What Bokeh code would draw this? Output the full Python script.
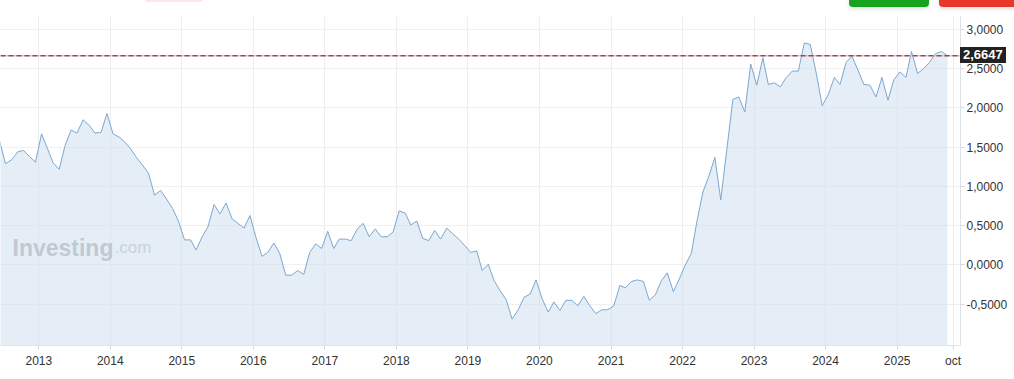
import pandas as pd
from bokeh.plotting import figure
from bokeh.models import (ColumnDataSource, Range1d, FixedTicker, CustomJSTickFormatter,
                          Span, Label, Div)
from bokeh.layouts import column
from bokeh.embed import file_html
from bokeh.resources import INLINE

# ---- data (monthly, Jun 2012 .. Sep 2025) ----
start_month = "2012-06-01"
values = [
    1.58, 1.29, 1.34, 1.44, 1.46, 1.38, 1.31,                              # 2012 Jun-Dec
    1.67, 1.48, 1.30, 1.22, 1.52, 1.72, 1.68, 1.85, 1.78, 1.68, 1.69, 1.93,  # 2013
    1.67, 1.63, 1.57, 1.48, 1.37, 1.27, 1.17, 0.89, 0.95, 0.84, 0.72, 0.56,  # 2014
    0.32, 0.32, 0.19, 0.36, 0.49, 0.77, 0.65, 0.79, 0.59, 0.53, 0.47, 0.63,  # 2015
    0.35, 0.11, 0.16, 0.28, 0.15, -0.13, -0.13, -0.07, -0.12, 0.16, 0.27, 0.21,  # 2016
    0.43, 0.21, 0.33, 0.33, 0.31, 0.46, 0.53, 0.36, 0.46, 0.36, 0.36, 0.42,  # 2017
    0.69, 0.66, 0.51, 0.56, 0.34, 0.31, 0.44, 0.33, 0.47, 0.40, 0.33, 0.25,  # 2018
    0.16, 0.18, -0.07, 0.01, -0.20, -0.33, -0.44, -0.69, -0.57, -0.41, -0.37, -0.19,  # 2019
    -0.43, -0.60, -0.47, -0.58, -0.45, -0.45, -0.52, -0.40, -0.52, -0.62, -0.57, -0.57,  # 2020
    -0.52, -0.26, -0.29, -0.21, -0.19, -0.21, -0.45, -0.38, -0.20, -0.10, -0.34, -0.18,  # 2021
    0.00, 0.15, 0.55, 0.93, 1.13, 1.37, 0.83, 1.47, 2.11, 2.14, 1.95, 2.56,  # 2022
    2.29, 2.64, 2.30, 2.32, 2.27, 2.39, 2.47, 2.47, 2.83, 2.81, 2.44, 2.03,  # 2023
    2.17, 2.39, 2.30, 2.58, 2.66, 2.48, 2.30, 2.29, 2.14, 2.39, 2.10, 2.36,  # 2024
    2.46, 2.39, 2.72, 2.44, 2.50, 2.58, 2.69, 2.72, 2.6647,                  # 2025 Jan-Sep
]
tick_dates = ["2013-01-01", "2014-01-01", "2015-01-01", "2016-01-01", "2017-01-01",
              "2018-01-01", "2019-01-01", "2020-01-01", "2021-01-01", "2022-01-01",
              "2023-01-01", "2024-01-01", "2025-01-01", "2025-10-13"]
tick_labels = ["2013", "2014", "2015", "2016", "2017", "2018", "2019", "2020",
               "2021", "2022", "2023", "2024", "2025", "oct"]
y_ticks = [-0.5, 0.0, 0.5, 1.0, 1.5, 2.0, 2.5, 3.0]

# ---- build ----
dates = pd.date_range(start_month, periods=len(values), freq="MS") + pd.Timedelta(days=14)
src = ColumnDataSource(dict(x=dates, y=values))

TOP_H = 16
FRAME_H = 329
base = pd.Timestamp("2013-01-01")
x_start = base - pd.Timedelta(days=195.6)
x_end = base + pd.Timedelta(days=4706.2)
y_start, y_end = -1.0255, 3.1656

p = figure(width=1014, height=FRAME_H + 34, x_axis_type="datetime",
           x_range=Range1d(x_start, x_end), y_range=Range1d(y_start, y_end),
           y_axis_location="right", output_backend="svg", toolbar_location=None,
           tools="", min_border_left=0, min_border_right=54, min_border_top=0,
           min_border_bottom=34, background_fill_color="white",
           border_fill_color="white")
p.outline_line_color = None

tick_ms = [pd.Timestamp(d).value / 1e6 for d in tick_dates]
xt = FixedTicker(ticks=tick_ms, minor_ticks=[])
yt = FixedTicker(ticks=y_ticks, minor_ticks=[])

p.xaxis.ticker = xt
p.xaxis.formatter = CustomJSTickFormatter(
    args=dict(t=tick_ms, l=tick_labels),
    code="let b=-1,d=1e30; for(let i=0;i<t.length;i++){const e=Math.abs(t[i]-tick); if(e<d){d=e;b=i;}} return d<1e7 ? l[b] : '';")
p.xaxis.axis_line_color = "#e3e3e3"
p.xaxis.major_tick_line_color = "#d8d8d8"
p.xaxis.major_tick_in = 0
p.xaxis.major_tick_out = 4
p.xaxis.minor_tick_line_color = None
p.xaxis.major_label_standoff = 4
p.xaxis.major_label_text_font = "Liberation Sans"
p.xaxis.major_label_text_font_size = "12px"
p.xaxis.major_label_text_color = "#333333"

p.yaxis.ticker = yt
p.yaxis.formatter = CustomJSTickFormatter(code="return tick.toFixed(4).replace('.', ',');")
p.yaxis.axis_line_color = "#dde1e6"
p.yaxis.major_tick_line_color = "#d8d8d8"
p.yaxis.major_tick_in = 0
p.yaxis.major_tick_out = 4
p.yaxis.minor_tick_line_color = None
p.yaxis.major_label_standoff = 2
p.yaxis.major_label_text_font = "Liberation Sans"
p.yaxis.major_label_text_font_size = "12px"
p.yaxis.major_label_text_color = "#333333"

p.xgrid.ticker = xt
p.ygrid.ticker = yt
p.xgrid.grid_line_color = "#eeeeee"
p.ygrid.grid_line_color = "#f0f0f0"

# watermark
p.add_layout(Label(x=12, y=98, x_units="screen", y_units="screen", text="Investing",
                   text_font="Liberation Sans", text_font_style="bold",
                   text_font_size="23px", text_color="#adadad",
                   text_baseline="alphabetic", level="underlay"))
p.add_layout(Label(x=114, y=98, x_units="screen", y_units="screen", text=".com",
                   text_font="Liberation Sans", text_font_size="17px",
                   text_color="#bdbdbd", text_baseline="alphabetic", level="underlay"))

p.varea(x="x", y1="y", y2=y_start, source=src, fill_color="#cfe0f0", fill_alpha=0.55)
p.line(x="x", y="y", source=src, line_color="#7aa7d0", line_width=1)

last = values[-1]
last_text = f"{last:.4f}".replace(".", ",")
p.add_layout(Span(location=last, dimension="width", line_color="#f2b6c0",
                  line_width=1.5))
p.add_layout(Span(location=last, dimension="width", line_color="#5e1a2a",
                  line_width=1, line_dash="5 3"))

# price tag (HTML, placed over the right axis at the last value)
tag_center = TOP_H + (y_end - last) / (y_end - y_start) * FRAME_H
tag_top = tag_center - 8

top = Div(text=(
    '<div style="position:relative;width:1014px;height:16px;overflow:visible;">'
    '<div style="position:absolute;left:145px;top:-4px;width:58px;height:6px;'
    'background:#fde6e6;border-radius:3px;"></div>'
    '<div style="position:absolute;left:849px;top:-6px;width:80px;height:12.7px;'
    'background:#17a31d;border-radius:4px;box-shadow:0 2px 4px rgba(0,0,0,0.12);"></div>'
    '<div style="position:absolute;left:939px;top:-6px;width:90px;height:12.7px;'
    'background:#e8382c;border-radius:4px;box-shadow:0 2px 4px rgba(0,0,0,0.12);"></div>'
    f'<div style="position:absolute;left:960px;top:{tag_top:.1f}px;height:16px;'
    'padding:0 3px;background:#222222;color:#ffffff;font-family:\'Liberation Sans\';'
    f'font-weight:bold;font-size:13px;line-height:16px;white-space:nowrap;">{last_text}</div>'
    '</div>'), width=1014, height=TOP_H, margin=(0, 0, 0, 0),
    styles={"z-index": "10", "overflow": "visible", "position": "relative"})

layout = column(top, p, spacing=0, margin=(0, 0, 0, 0))
open("out.html", "w").write(file_html(layout, INLINE))
